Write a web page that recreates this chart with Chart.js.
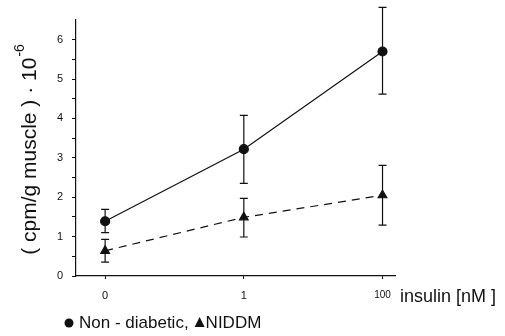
<!DOCTYPE html>
<html><head><meta charset="utf-8">
<script src="https://cdn.jsdelivr.net/npm/chart.js@4"></script>
<style>html,body{margin:0;padding:0;background:#fff}#c{display:block}</style>
</head><body>
<canvas id="c" width="505" height="336"></canvas>
<script>
const categories = ['0', '1', '100'];
const nonDiabetic = [1.39, 3.22, 5.70];
const nonDiabeticHi = [1.69, 4.08, 6.82];
const nonDiabeticLo = [1.10, 2.35, 4.62];
const niddm = [0.64, 1.49, 2.05];
const niddmHi = [0.93, 1.97, 2.81];
const niddmLo = [0.35, 0.99, 1.29];
const yTicks = [0, 0.5, 1, 1.5, 2, 2.5, 3, 3.5, 4, 4.5, 5, 5.5, 6];

const FONT = '"Liberation Sans", Arial, Helvetica, sans-serif';

const errorBars = {
  id: 'errorBars',
  afterDatasetsDraw(chart) {
    const ctx = chart.ctx, xs = chart.scales.x, ys = chart.scales.y;
    const sets = [[nonDiabeticLo, nonDiabeticHi], [niddmLo, niddmHi]];
    ctx.save();
    ctx.strokeStyle = '#111';
    ctx.lineWidth = 1.2;
    sets.forEach(([lo, hi]) => {
      lo.forEach((l, i) => {
        const x = xs.getPixelForValue(i);
        const y1 = ys.getPixelForValue(l), y2 = ys.getPixelForValue(hi[i]);
        ctx.beginPath();
        ctx.moveTo(x, y1); ctx.lineTo(x, y2);
        ctx.moveTo(x - 4, y1); ctx.lineTo(x + 4, y1);
        ctx.moveTo(x - 4, y2); ctx.lineTo(x + 4, y2);
        ctx.stroke();
      });
    });
    ctx.restore();
  }
};

const texts = {
  id: 'texts',
  afterDraw(chart) {
    const ctx = chart.ctx;
    ctx.save();
    ctx.fillStyle = '#111';
    // y title
    ctx.translate(30, 150);
    ctx.rotate(-Math.PI / 2);
    const main = '( cpm/g muscle ) \u00B7 10';
    const sup = '-6';
    ctx.font = '21px ' + FONT;
    const w1 = ctx.measureText(main).width;
    ctx.font = '14px ' + FONT;
    const w2 = ctx.measureText(sup).width;
    const tot = w1 + w2;
    ctx.textBaseline = 'middle';
    ctx.textAlign = 'left';
    ctx.font = '21px ' + FONT;
    ctx.fillText(main, -tot / 2, 0);
    ctx.font = '14px ' + FONT;
    ctx.fillText(sup, -tot / 2 + w1 + 1, -10);
    ctx.restore();

    ctx.save();
    ctx.fillStyle = '#111';
    ctx.textBaseline = 'middle';
    ctx.font = '18px ' + FONT;
    ctx.fillText('insulin [nM ]', 400, 297);
    // legend
    ctx.font = '17px ' + FONT;
    ctx.beginPath();
    ctx.arc(69, 323, 4.5, 0, Math.PI * 2);
    ctx.fill();
    ctx.fillText('Non - diabetic,', 79, 323);
    const wl = ctx.measureText('Non - diabetic,').width;
    const tx = 79 + wl + 11;
    ctx.beginPath();
    ctx.moveTo(tx, 317); ctx.lineTo(tx + 5, 327); ctx.lineTo(tx - 5, 327); ctx.closePath();
    ctx.fill();
    ctx.fillText('NIDDM', tx + 6, 323);
    ctx.restore();
  }
};

new Chart(document.getElementById('c'), {
  type: 'line',
  data: {
    datasets: [
      {
        label: 'Non - diabetic',
        data: nonDiabetic.map((v, i) => ({x: i, y: v})),
        borderColor: '#111', backgroundColor: '#111', borderWidth: 1.2,
        pointStyle: 'circle', pointRadius: 4.5, pointHoverRadius: 4.5
      },
      {
        label: 'NIDDM',
        data: niddm.map((v, i) => ({x: i, y: v})),
        borderColor: '#111', backgroundColor: '#111', borderWidth: 1.2,
        borderDash: [8, 6],
        pointStyle: 'triangle', pointRadius: 5, pointHoverRadius: 5
      }
    ]
  },
  options: {
    responsive: false, animation: false,
    layout: {padding: {top: 20, right: 110, left: 0, bottom: 0}},
    plugins: {legend: {display: false}, tooltip: {enabled: false}},
    scales: {
      x: {
        type: 'linear', min: -0.21, max: 2.09,
        afterBuildTicks: s => { s.ticks = categories.map((c, i) => ({value: i})); },
        afterFit: s => { s.height = 60; },
        ticks: {
          color: '#111', padding: 10, maxRotation: 0,
          font: ctx => ({family: FONT, size: ctx.index === 2 ? 10 : 11}),
          callback: (v) => categories[v]
        },
        grid: {drawOnChartArea: false, drawTicks: true, tickLength: 3, color: '#111'},
        border: {color: '#111', width: 1.2}
      },
      y: {
        type: 'linear', min: 0, max: 6.5,
        afterBuildTicks: s => { s.ticks = yTicks.map(v => ({value: v})); },
        afterFit: s => { s.width = 76; },
        ticks: {
          color: '#111', padding: 9,
          font: {family: FONT, size: 11},
          callback: v => Number.isInteger(v) ? String(v) : ''
        },
        grid: {drawOnChartArea: false, drawTicks: true, tickLength: 4, color: '#111'},
        border: {color: '#111', width: 1.2}
      }
    }
  },
  plugins: [errorBars, texts]
});
</script>
</body></html>
